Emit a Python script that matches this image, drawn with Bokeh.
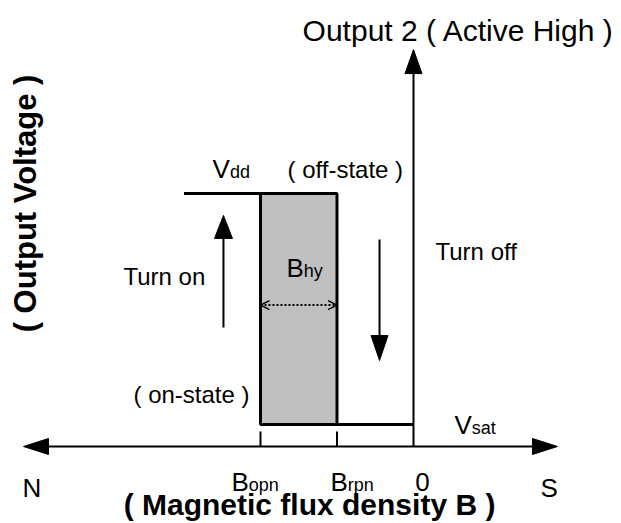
import math
from bokeh.plotting import figure
from bokeh.models import Range1d, Arrow, OpenHead
from bokeh.core.properties import value
from bokeh.embed import file_html
from bokeh.resources import INLINE

# ---- diagram data (conceptual units) ----
b_labels = ["B", "B", "0"]
b_subs = ["opn", "rpn", ""]
b_values = [-2.0, -1.0, 0.0]          # B_opn, B_rpn, 0
v_sat = 0.0
v_dd = 1.0
curve_left = -3.0                      # start of the Vdd plateau
axis_level = -0.0952                   # horizontal B axis
axis_left, axis_right = -5.098, 1.882
axis_top = 1.623
turn_on_x, turn_on_from, turn_on_to = -2.484, 0.420, 0.905
turn_off_x, turn_off_from, turn_off_to = -0.444, 0.801, 0.277
bhy_level = 0.517

FONT = value("Liberation Sans")
W, H = 621, 523
SX, SY = 76.5, 231.0
x0, y0 = -413 / SX, -99 / SY

p = figure(width=W, height=H, output_backend="svg", toolbar_location=None,
           x_range=Range1d(x0, x0 + W / SX), y_range=Range1d(y0, y0 + H / SY),
           x_axis_type=None, y_axis_type=None, min_border=0)
p.grid.visible = False
p.outline_line_color = None
p.background_fill_color = "white"
p.border_fill_color = "white"

def head(tx, ty, dirx, diry, length, half):
    bx = tx - dirx * length / SX
    by = ty - diry * length / SY
    px_, py_ = -diry, dirx
    return ([tx, bx + px_ * half / SX, bx - px_ * half / SX],
            [ty, by + py_ * half / SY, by - py_ * half / SY])

# shaded hysteresis band
p.quad(left=[b_values[0]], right=[b_values[1]], bottom=[v_sat], top=[v_dd],
       fill_color="#c0c0c0", line_color="black", line_width=3)
# plateaus
p.line([curve_left, b_values[0]], [v_dd, v_dd], line_color="black", line_width=3)
p.line([b_values[1], b_values[2]], [v_sat, v_sat], line_color="black", line_width=3)

# axes
hl = head(axis_left, axis_level, -1, 0, 25, 8)
hr = head(axis_right, axis_level, 1, 0, 25, 8)
ht = head(0.0, axis_top, 0, 1, 24, 8.5)
p.line([axis_left + 24 / SX, axis_right - 24 / SX], [axis_level, axis_level],
       line_color="black", line_width=2)
p.line([0.0, 0.0], [axis_level, axis_top - 23 / SY], line_color="black", line_width=2)
p.segment(x0=b_values[:2], y0=[axis_level] * 2, x1=b_values[:2],
          y1=[axis_level + 15 / SY] * 2, line_color="black", line_width=2)

# turn on / turn off arrows
hon = head(turn_on_x, turn_on_to, 0, 1, 23, 9)
hoff = head(turn_off_x, turn_off_to, 0, -1, 25, 8.5)
p.line([turn_on_x, turn_on_x], [turn_on_from, turn_on_to - 22 / SY], line_color="black", line_width=2)
p.line([turn_off_x, turn_off_x], [turn_off_from, turn_off_to + 24 / SY], line_color="black", line_width=2)

p.patches(xs=[hl[0], hr[0], ht[0], hon[0], hoff[0]],
          ys=[hl[1], hr[1], ht[1], hon[1], hoff[1]],
          fill_color="black", line_color="black", line_width=1)

# hysteresis width arrow
p.add_layout(Arrow(x_start=b_values[0], y_start=bhy_level, x_end=b_values[1], y_end=bhy_level,
                   line_width=2, line_dash="2 2", line_color="black",
                   start=OpenHead(size=9, line_width=1.5, line_color="black"),
                   end=OpenHead(size=9, line_width=1.5, line_color="black")))

def txt(x, base, s, size, align="left", bold=False, x_off=0, angle=0.0):
    # base = alphabetic baseline (data units); drawn with a middle baseline
    y = base + 0.36 * size / SY
    p.text(x=[x], y=[y], text=[s], text_font=FONT, text_font_size=f"{size}px",
           text_align=align, text_baseline="middle", text_color="black",
           text_font_style="bold" if bold else "normal", x_offset=x_off, angle=angle)

CAP, SUB = 26, 18
VW = 0.667 * CAP
BW = 0.667 * CAP

txt(0.588, 1.658, "Output 2 ( Active High )", 30, align="center")
txt(-2.627, 1.065, "V", CAP)
txt(-2.627, 1.065, "dd", SUB, x_off=VW)
txt(-1.647, 1.065, "( off-state )", 24)
txt(0.2876, 0.710, "Turn off", 24)
txt(-3.791, 0.6017, "Turn on", 24)
txt(-1.660, 0.636, "B", CAP)
txt(-1.660, 0.636, "hy", SUB, x_off=BW)
txt(-3.660, 0.0909, "( on-state )", 24)
txt(0.536, -0.0433, "V", CAP)
txt(0.536, -0.0433, "sat", SUB, x_off=VW)
txt(-5.111, -0.316, "N", CAP)
txt(1.660, -0.316, "S", CAP)
tick_lab_off = [-0.379, -0.085, 0.118]
for bv, lab, sub, off in zip(b_values, b_labels, b_subs, tick_lab_off):
    if sub:
        txt(bv + off, -0.290, lab, CAP)
        txt(bv + off, -0.290, sub, SUB, x_off=BW)
    else:
        txt(bv + off, -0.290, lab, CAP, align="center")
txt(-1.359, -0.3939, "( Magnetic flux density B )", 30, align="center", bold=True)
p.text(x=[(25 - 413) / SX], y=[(424 - 203) / SY], text=["( Output Voltage )"],
       text_font=FONT, text_font_size="31px", text_font_style="bold",
       text_align="center", text_baseline="middle", angle=math.pi / 2)

open("out.html", "w").write(file_html(p, INLINE))
